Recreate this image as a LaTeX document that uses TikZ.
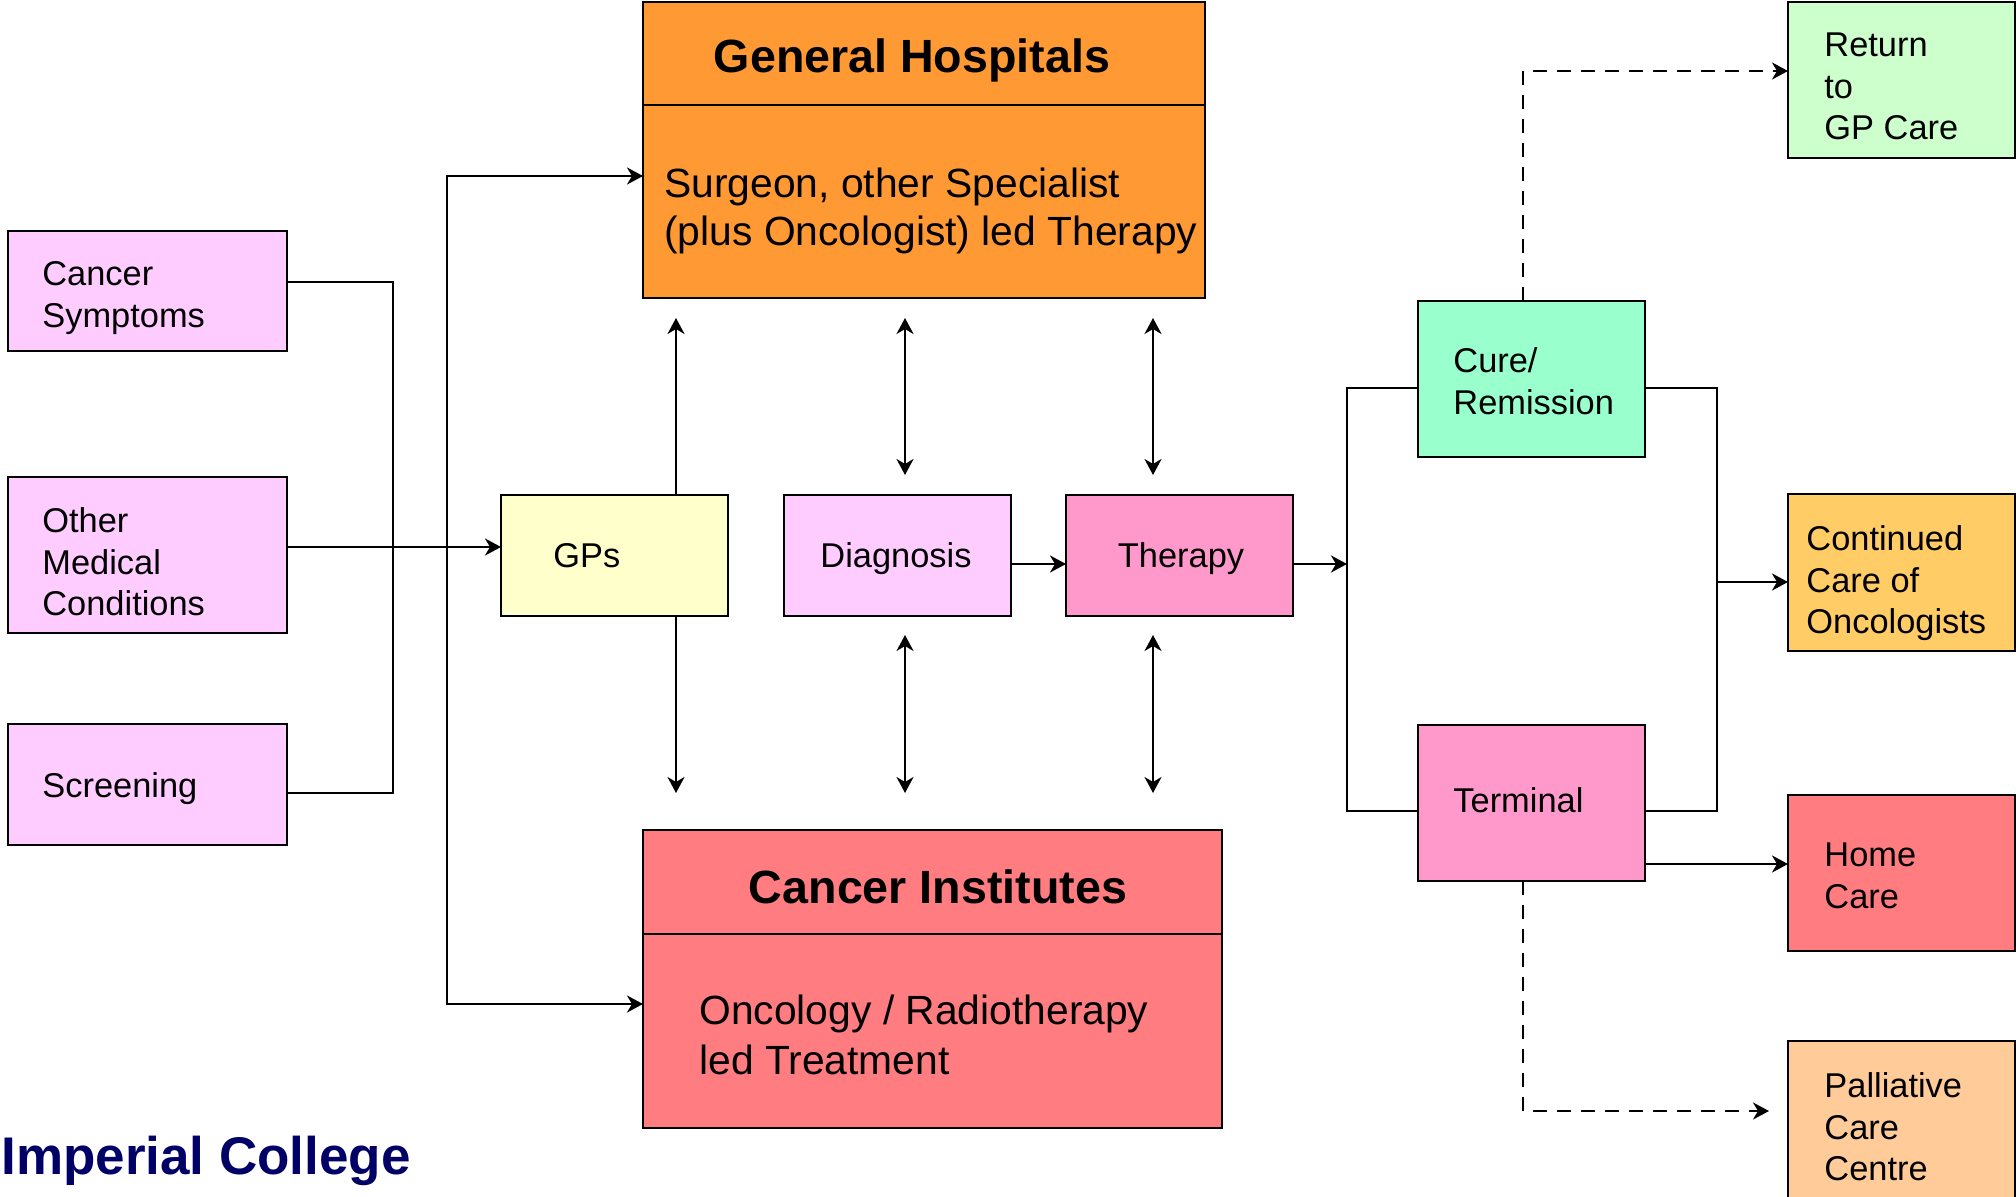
\documentclass[tikz,border=0pt]{standalone}
\usepackage{fontspec}
\setmainfont{Liberation Sans}
\usetikzlibrary{arrows.meta}
\definecolor{pinkL}{HTML}{FFCCFF}
\definecolor{yellowL}{HTML}{FFFFCC}
\definecolor{pinkM}{HTML}{FF99CC}
\definecolor{orangeG}{HTML}{FF9933}
\definecolor{salmon}{HTML}{FF7C80}
\definecolor{mint}{HTML}{99FFCC}
\definecolor{greenL}{HTML}{CCFFCC}
\definecolor{goldC}{HTML}{FFCC66}
\definecolor{peach}{HTML}{FFCC99}
\definecolor{navyIC}{HTML}{000066}
\newcommand{\strA}{\rule{0pt}{14pt}}
\newcommand{\strB}{\rule{0pt}{18pt}}
\begin{document}
\begin{tikzpicture}[x=0.5pt,y=-0.5pt,
  box/.style={draw=black, line width=1.4pt, inner sep=0pt, outer sep=0pt, anchor=north west},
  smallbox/.style={box, minimum width=113.5pt},
  lbl/.style={anchor=north west, align=left, inner sep=0pt, font=\fontsize{17.2}{20.85}\selectfont},
  lblc/.style={anchor=north, align=center, inner sep=0pt, font=\fontsize{17.2}{20.85}\selectfont},
  bigtitle/.style={anchor=base, inner sep=0pt, font=\fontsize{23.3}{28}\selectfont\bfseries},
  conn/.style={draw=black, line width=1.15pt},
  tip/.style={-{Stealth[length=8pt,width=8.5pt,inset=2.5pt]}},
  tips/.style={{Stealth[length=8pt,width=8.5pt,inset=2.5pt]}-{Stealth[length=8pt,width=8.5pt,inset=2.5pt]}},
  dashedconn/.style={conn, dash pattern=on 7pt off 5pt}
]
\useasboundingbox (0,0) rectangle (2016,1197);

% ---------- boxes ----------
\node[box, fill=pinkL, minimum width=139.5pt, minimum height=60pt] (cs) at (8,231) {};
\node[box, fill=pinkL, minimum width=139.5pt, minimum height=78pt] (omc) at (8,477) {};
\node[box, fill=pinkL, minimum width=139.5pt, minimum height=60.5pt] (scr) at (8,724) {};
\node[smallbox, fill=yellowL, minimum height=60.5pt] (gps) at (501,495) {};
\node[smallbox, fill=pinkL, minimum height=60.5pt] (diag) at (784,495) {};
\node[smallbox, fill=pinkM, minimum height=60.5pt] (ther) at (1066,495) {};
\node[box, fill=orangeG, minimum width=281pt, minimum height=148pt] (gh) at (643,2) {};
\node[box, fill=salmon, minimum width=289.5pt, minimum height=149pt] (ci) at (643,830) {};
\node[smallbox, fill=mint, minimum height=78pt] (cure) at (1418,301) {};
\node[smallbox, fill=pinkM, minimum height=78pt] (term) at (1418,725) {};
\node[smallbox, fill=greenL, minimum height=78pt] (ret) at (1788,2) {};
\node[smallbox, fill=goldC, minimum height=78.5pt] (cont) at (1788,494) {};
\node[smallbox, fill=salmon, minimum height=78pt] (home) at (1788,795) {};
\node[smallbox, fill=peach, minimum height=85pt] (pal) at (1788,1041) {};

% dividers of the two large boxes
\coordinate (ghdiv) at (0,105);
\coordinate (cidiv) at (0,934);
\draw[line width=1.4pt] (gh.west |- ghdiv) -- (gh.east |- ghdiv);
\draw[line width=1.4pt] (ci.west |- cidiv) -- (ci.east |- cidiv);

% ---------- texts ----------
\node[lbl] (cst) at (42,257) {\strA Cancer\\Symptoms};
\node[lbl] (omct) at (42,504) {\strA Other\\Medical\\Conditions};
\node[lbl] (scrt) at (42,769) {\strA Screening};
\node[lbl] (gpst) at (553,539) {\strA GPs};
\node[lblc] (diagt) at (896,539) {\strA Diagnosis};
\node[lblc] (thert) at (1181,539) {\strA Therapy};
\node[lbl] (curet) at (1453,344) {\strA Cure/\\Remission};
\node[lbl] (termt) at (1453,784) {\strA Terminal};
\node[lbl] (rett) at (1824,28) {\strA Return\\to\\GP Care};
\node[lbl] (contt) at (1806,522) {\strA Continued\\Care of\\Oncologists};
\node[lbl] (homet) at (1824,838) {\strA Home\\Care};
\node[lbl] (palt) at (1824,1069) {\strA Palliative\\Care\\Centre};

\node[bigtitle] (ght) at (912,73) {General Hospitals};
\node[anchor=north west, align=left, inner sep=0pt, font=\fontsize{20.4}{24.15}\selectfont] (ghb) at (664,161)
  {\strB Surgeon, other Specialist\\(plus Oncologist) led Therapy};
\node[bigtitle] (cit) at (938,903) {Cancer Institutes};
\node[anchor=north west, align=left, inner sep=0pt, font=\fontsize{20.4}{25}\selectfont] (cib) at (699,988)
  {\strB Oncology / Radiotherapy\\led Treatment};

\node[anchor=base west, inner sep=0pt, text=navyIC, font=\fontsize{26.5}{32}\selectfont\bfseries] (imp) at (1,1174) {Imperial College};

% ---------- connectors: left side ----------
\coordinate (lbT) at (393,282);
\coordinate (lbB) at (393,793);
\draw[conn] (cs.east |- lbT) -- (lbT) -- (lbB) -- (scr.east |- lbB);
\coordinate (omcY) at (0,547);
\draw[conn, tip] (omc.east |- omcY) -- (gps.west |- omcY);

\coordinate (vT) at (447,176);
\coordinate (vB) at (447,1004);
\draw[conn, tips] (gh.west |- vT) -- (vT) -- (vB) -- (ci.west |- vB);

% ---------- vertical arrows in the middle ----------
\coordinate (gpx) at (676,0);
\coordinate (dgx) at (905,0);
\coordinate (thx) at (1153,0);
\coordinate (yTop) at (0,318);
\coordinate (yMidA) at (0,475);
\coordinate (yMidB) at (0,635);
\coordinate (yBot) at (0,793);
\draw[conn, tip] (gps.north -| gpx) -- (gpx |- yTop);
\draw[conn, tip] (gps.south -| gpx) -- (gpx |- yBot);
\draw[conn, tips] (dgx |- yTop) -- (dgx |- yMidA);
\draw[conn, tips] (dgx |- yMidB) -- (dgx |- yBot);
\draw[conn, tips] (thx |- yTop) -- (thx |- yMidA);
\draw[conn, tips] (thx |- yMidB) -- (thx |- yBot);

% ---------- diagnosis -> therapy -> outcomes ----------
\coordinate (dtY) at (0,564);
\draw[conn, tip] (diag.east |- dtY) -- (ther.west |- dtY);
\coordinate (rbx) at (1347,0);
\draw[conn, tip] (ther.east |- dtY) -- (rbx |- dtY);
\coordinate (cureY) at (0,388);
\coordinate (termY) at (0,811);
\draw[conn] (cure.west |- cureY) -- (rbx |- cureY) -- (rbx |- termY) -- (term.west |- termY);

\coordinate (obx) at (1717,0);
\draw[conn] (cure.east |- cureY) -- (obx |- cureY) -- (obx |- termY) -- (term.east |- termY);
\coordinate (contY) at (0,582);
\draw[conn, tip] (obx |- contY) -- (cont.west |- contY);
\coordinate (homeY) at (0,864);
\draw[conn, tip] (term.east |- homeY) -- (home.west |- homeY);

% ---------- dashed arrows ----------
\coordinate (dsx) at (1523,0);
\coordinate (retY) at (0,71);
\draw[dashedconn, tip] (cure.north -| dsx) -- (dsx |- retY) -- (ret.west |- retY);
\coordinate (palY) at (1523,1111);
\coordinate (palEnd) at (1769,1111);
\draw[dashedconn, tip] (term.south -| dsx) -- (palY) -- (palEnd);
\end{tikzpicture}
\end{document}
